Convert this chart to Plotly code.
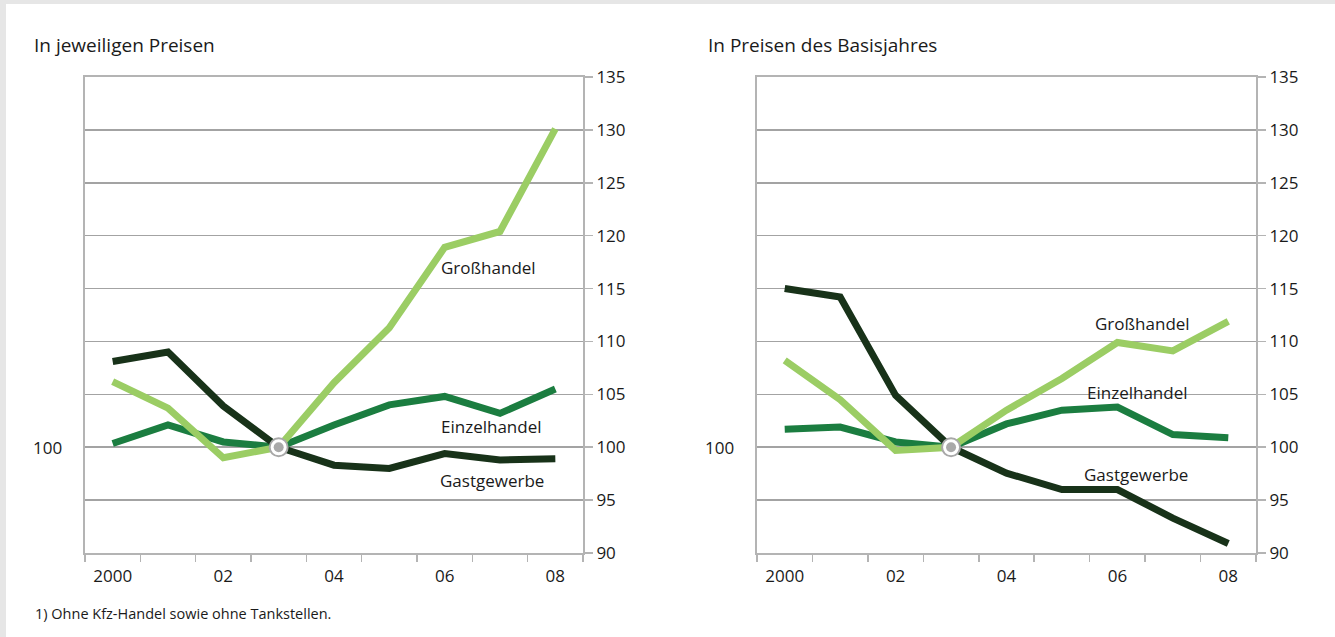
import plotly.graph_objects as go

years = [2000, 2001, 2002, 2003, 2004, 2005, 2006, 2007, 2008]
tick_years = [2000, 2002, 2004, 2006, 2008]
tick_text = ["2000", "02", "04", "06", "08"]

# In jeweiligen Preisen (2003 = 100)
nominal_gross = [106.2, 103.7, 99.0, 100.0, 106.1, 111.3, 118.9, 120.4, 130.1]
nominal_einzel = [100.35, 102.1, 100.5, 100.0, 102.1, 104.0, 104.8, 103.2, 105.5]
nominal_gast = [108.1, 109.0, 103.9, 100.0, 98.3, 98.0, 99.4, 98.8, 98.9]

# In Preisen des Basisjahres (2003 = 100)
real_gross = [108.2, 104.5, 99.7, 100.0, 103.5, 106.5, 109.9, 109.1, 111.9]
real_einzel = [101.7, 101.9, 100.5, 100.0, 102.2, 103.5, 103.8, 101.2, 100.9]
real_gast = [115.0, 114.2, 104.9, 100.0, 97.55, 96.0, 96.0, 93.3, 90.9]

series_names = ["Einzelhandel", "Großhandel", "Gastgewerbe"]
series_colors = ["#1b7d40", "#9bcd64", "#183219"]

W, H = 1335, 637
FONT = "Open Sans"
TXT = "#1a1a1a"

fig = go.Figure()

panels = [
    ("x", "y", [nominal_einzel, nominal_gross, nominal_gast]),
    ("x2", "y2", [real_einzel, real_gross, real_gast]),
]

for xa, ya, data in panels:
    for name, vals, col in zip(series_names, data, series_colors):
        fig.add_trace(go.Scatter(
            x=years, y=vals, mode="lines", name=name, xaxis=xa, yaxis=ya,
            line=dict(color=col, width=7), showlegend=False, hoverinfo="skip"))
    # base year marker 2003 = 100
    fig.add_trace(go.Scatter(
        x=[years[3]], y=[100], mode="markers", xaxis=xa, yaxis=ya, showlegend=False,
        marker=dict(size=18, color="white", line=dict(color="#a8a8a8", width=2))))
    fig.add_trace(go.Scatter(
        x=[years[3]], y=[100], mode="markers", xaxis=xa, yaxis=ya, showlegend=False,
        marker=dict(size=10, color="#a9a9a9")))

minor_vals = [y - 0.5 for y in years] + [years[-1] + 0.5]
ydom = [1 - 553 / H, 1 - 77 / H]

def xaxis_cfg(x0, x1, anchor):
    return dict(
        domain=[x0 / W, x1 / W], anchor=anchor, range=[1999.5, 2008.5],
        tickmode="array", tickvals=tick_years, ticktext=tick_text,
        ticks="outside", ticklen=7, tickcolor="rgba(0,0,0,0)",
        showline=True, linecolor="#b4b4b4", linewidth=2, mirror=True,
        showgrid=False, zeroline=False, automargin=False,
        minor=dict(tickmode="array", tickvals=minor_vals, ticks="outside",
                   ticklen=7, tickcolor="#b4b4b4", tickwidth=1.5, showgrid=False),
        tickfont=dict(family=FONT, size=17, color=TXT), fixedrange=True)

def yaxis_cfg(anchor):
    return dict(
        domain=ydom, anchor=anchor, range=[90, 135], dtick=5, tick0=90,
        side="right", ticks="outside", ticklen=8, tickcolor="#b4b4b4", tickwidth=1.5,
        showline=True, linecolor="#b4b4b4", linewidth=2, mirror=True,
        showgrid=True, gridcolor="#a3a3a3", gridwidth=1.5, zeroline=False,
        automargin=False,
        tickfont=dict(family=FONT, size=17, color=TXT), fixedrange=True)

fig.update_layout(
    width=W, height=H, margin=dict(l=0, r=0, t=0, b=0, pad=0, autoexpand=False),
    paper_bgcolor="white", plot_bgcolor="white",
    xaxis=xaxis_cfg(85, 583, "y"), yaxis=yaxis_cfg("x"),
    xaxis2=xaxis_cfg(757, 1256, "y2"), yaxis2=yaxis_cfg("x2"),
    font=dict(family=FONT, color=TXT),
)

ann = []
# panel titles
ann.append(dict(text="In jeweiligen Preisen", xref="paper", yref="paper", x=32 / W, y=1 - 45 / H,
                xanchor="left", yanchor="middle", showarrow=False, font=dict(size=19)))
ann.append(dict(text="In Preisen des Basisjahres", xref="paper", yref="paper", x=706 / W, y=1 - 45 / H,
                xanchor="left", yanchor="middle", showarrow=False, font=dict(size=19)))
# left "100" labels
for xr, yr in [("x domain", "y"), ("x2 domain", "y2")]:
    ann.append(dict(text="100", xref=xr, yref=yr, x=0, y=100, xanchor="right", yanchor="middle",
                    xshift=-21, showarrow=False, font=dict(size=17)))
# series labels
labels = [
    ("x", "y", "Großhandel", 2006.8, 117.0),
    ("x", "y", "Einzelhandel", 2006.85, 102.0),
    ("x", "y", "Gastgewerbe", 2006.85, 96.9),
    ("x2", "y2", "Großhandel", 2006.45, 111.7),
    ("x2", "y2", "Einzelhandel", 2006.36, 105.2),
    ("x2", "y2", "Gastgewerbe", 2006.34, 97.45),
]
for xr, yr, t, xv, yv in labels:
    ann.append(dict(text=t, xref=xr, yref=yr, x=xv, y=yv, xanchor="center", yanchor="middle",
                    showarrow=False, font=dict(size=17)))
# footnote
ann.append(dict(text="1) Ohne Kfz-Handel sowie ohne Tankstellen.", xref="paper", yref="paper",
                x=33 / W, y=1 - 613 / H, xanchor="left", yanchor="middle", showarrow=False,
                font=dict(size=14.5)))
fig.update_layout(annotations=ann)

# light grey page frame (top and left)
fig.add_shape(type="rect", xref="paper", yref="paper", x0=0, x1=1, y0=1 - 4 / H, y1=1,
              fillcolor="#e6e6e6", line_width=0, layer="above")
fig.add_shape(type="rect", xref="paper", yref="paper", x0=0, x1=6 / W, y0=0, y1=1,
              fillcolor="#e6e6e6", line_width=0, layer="above")

fig.write_html(
    "out.html",
    config={"displayModeBar": False, "staticPlot": True},
    post_script="document.body.style.margin='0';document.body.style.overflow='hidden';",
)
